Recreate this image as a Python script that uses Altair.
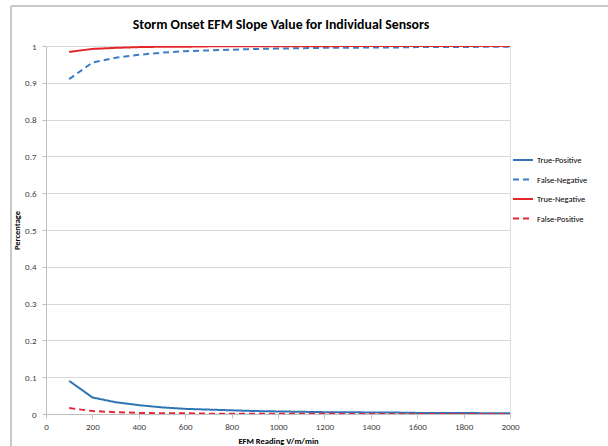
import altair as alt
import pandas as pd

# EFM reading thresholds (V/m/min)
efm = [100, 200, 300, 400, 500, 600, 700, 800, 900, 1000,
       1100, 1200, 1300, 1400, 1500, 1600, 1700, 1800, 1900, 2000]

true_positive = [0.090, 0.045, 0.032, 0.024, 0.018, 0.014, 0.012, 0.010, 0.008, 0.007,
                 0.006, 0.005, 0.005, 0.004, 0.004, 0.003, 0.003, 0.003, 0.002, 0.002]
false_negative = [0.910, 0.955, 0.968, 0.976, 0.982, 0.986, 0.988, 0.990, 0.992, 0.993,
                  0.994, 0.995, 0.995, 0.996, 0.996, 0.997, 0.997, 0.997, 0.998, 0.998]
true_negative = [0.984, 0.992, 0.995, 0.997, 0.998, 0.998, 0.999, 0.999, 0.999, 0.999,
                 0.999, 0.999, 1.000, 1.000, 1.000, 1.000, 1.000, 1.000, 1.000, 1.000]
false_positive = [0.016, 0.008, 0.005, 0.003, 0.002, 0.002, 0.001, 0.001, 0.001, 0.001,
                  0.001, 0.001, 0.000, 0.000, 0.000, 0.000, 0.000, 0.000, 0.000, 0.000]

series_names = ["True-Positive", "False-Negative", "True-Negative", "False-Positive"]
series_colors = ["#2F75B5", "#3B7DC4", "#E3262B", "#E8263A"]
series_dash = [[1, 0], [6, 4], [1, 0], [6, 4]]

rows = []
for name, vals in zip(series_names,
                      [true_positive, false_negative, true_negative, false_positive]):
    for x, v in zip(efm, vals):
        rows.append({"efm": x, "value": v, "series": name})
df = pd.DataFrame(rows)

font = "Carlito, Lato"

legend = alt.Legend(title=None, orient="none", legendX=466, legendY=103,
                    symbolType="stroke", symbolSize=400, symbolStrokeWidth=2,
                    labelFont=font, labelFontSize=8.5, labelColor="#000000",
                    rowPadding=3.5, labelOffset=3)

lines = alt.Chart(df).mark_line(strokeWidth=2, clip=True).encode(
    x=alt.X("efm:Q",
            scale=alt.Scale(domain=[0, 2000], nice=False),
            axis=alt.Axis(title="EFM Reading V/m/min", values=list(range(0, 2001, 200)),
                          format="d", grid=False, tickSize=4, tickColor="#BFBFBF",
                          domainColor="#BFBFBF", labelColor="#404040",
                          labelFontSize=9, labelFont=font, labelPadding=4,
                          labelFlush=False,
                          titleFont=font, titleFontSize=8.5, titleFontWeight="bold",
                          titleColor="#000000", titlePadding=5)),
    y=alt.Y("value:Q",
            scale=alt.Scale(domain=[0, 1], nice=False),
            axis=alt.Axis(title="Percentage", values=[i / 10 for i in range(11)],
                          labelExpr="format(datum.value, '.1~f')",
                          grid=True, gridColor="#D9D9D9", tickSize=4,
                          tickColor="#BFBFBF", domainColor="#BFBFBF",
                          labelColor="#404040", labelFontSize=9, labelFont=font,
                          labelPadding=6, labelFlush=False,
                          titleFont=font, titleFontSize=8.5,
                          titleFontWeight="bold", titleColor="#000000",
                          titleX=-25)),
    color=alt.Color("series:N",
                    scale=alt.Scale(domain=series_names, range=series_colors),
                    legend=legend),
    strokeDash=alt.StrokeDash("series:N",
                              scale=alt.Scale(domain=series_names, range=series_dash),
                              legend=legend),
    order=alt.Order("efm:Q"),
)

# outer chart frame (left and top edges)
frame_left = alt.Chart(df).mark_rule(color="#C8C8C8", strokeWidth=1, clip=False).encode(
    x=alt.value(-35), y=alt.value(-40), y2=alt.value(400))
frame_top = alt.Chart(df).mark_rule(color="#C8C8C8", strokeWidth=1, clip=False).encode(
    x=alt.value(-35), x2=alt.value(600), y=alt.value(-40))

chart = alt.layer(frame_left, frame_top, lines).properties(
    width=464,
    height=368,
    autosize=alt.AutoSizeParams(type="none"),
    padding={"left": 46, "top": 46, "right": 98, "bottom": 32},
    title=alt.TitleParams("Storm Onset EFM Slope Value for Individual Sensors",
                          font=font, fontSize=13.8, fontWeight="bold",
                          color="#000000", anchor="middle", frame="group",
                          baseline="alphabetic", offset=-37, dx=3),
).configure_view(stroke=None).configure(background="white")

chart.save("out.html", embed_options={"renderer": "svg", "actions": False})
